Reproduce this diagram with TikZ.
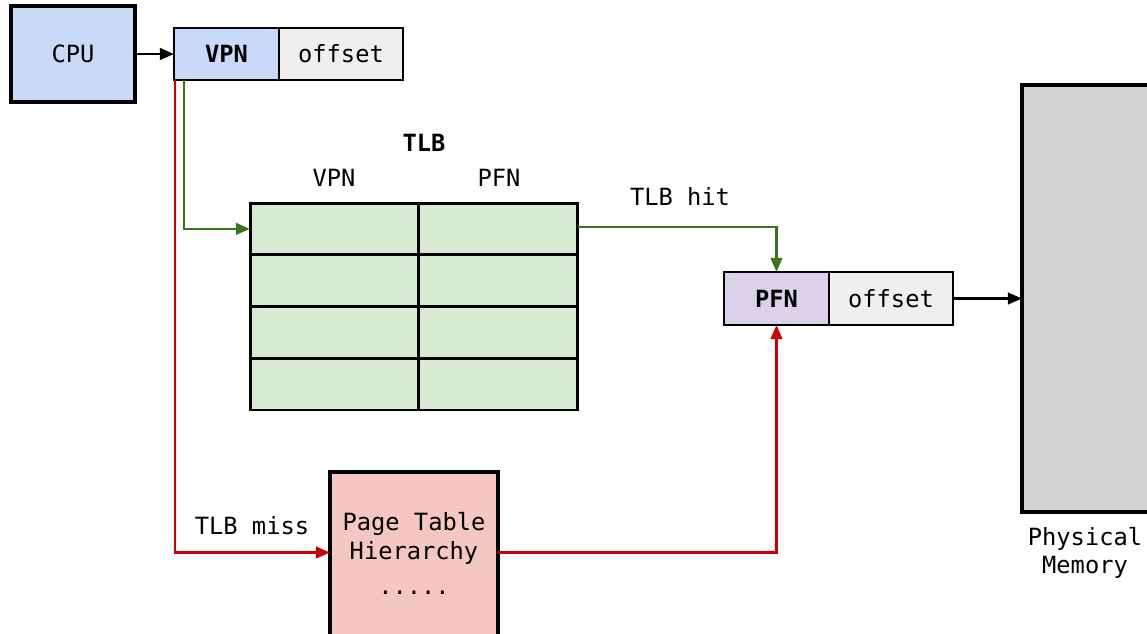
\documentclass[tikz,border=0pt]{standalone}
\usepackage{fontspec}
\setmonofont{DejaVu Sans Mono}
\usetikzlibrary{positioning,calc,arrows.meta}
\definecolor{cpublue}{HTML}{C9DAF8}
\definecolor{offgray}{HTML}{EFEFEF}
\definecolor{tlbgreen}{HTML}{D9EAD3}
\definecolor{pfnpurple}{HTML}{D9D2E9}
\definecolor{memgray}{HTML}{D4D4D4}
\definecolor{ptpink}{HTML}{F4C7C3}
\definecolor{hitgreen}{HTML}{38761D}
\definecolor{missred}{HTML}{CC0000}

\begin{document}
\begin{tikzpicture}[x=0.02cm,y=-0.02cm,>={Triangle[length=8pt,width=6.5pt]},
    font=\ttfamily\fontsize{13.5}{16}\selectfont,
    box/.style={draw,outer sep=0pt,inner sep=0pt,line width=1.1pt,minimum height=1.05cm},
    thickbox/.style={box,line width=1.8pt},
    cell/.style={draw,fill=tlbgreen,outer sep=0pt,line width=1.7pt,minimum height=1.035cm},
    link/.style={->,line width=1.5pt}]
    \useasboundingbox (0,0) rectangle (1147,633);
    \clip (0,0) rectangle (1147,633);
    % nodes
      \node[thickbox,fill=cpublue,minimum width=2.48cm,minimum height=1.92cm] (cpu) at (73,54) {CPU};
      \node[box,fill=cpublue,minimum width=2.1cm] (vpn) at (226.5,54) {\bfseries VPN};
      \node[box,fill=offgray,minimum width=2.48cm,right=0pt of vpn] (voff) {offset};
      \node (tlb) at (424,143) {\bfseries TLB};
      \node (hvpn) at (334,178) {VPN};
      \node (hpfn) at (499,178) {PFN};
      \foreach \r in {1,...,4}{
        \node[cell,minimum width=3.38cm] (v\r) at (334.5,{203+51.75*(\r-0.5)}) {};
        \node[cell,minimum width=3.18cm,right=0pt of v\r] (p\r) {};
      }
      \node[box,fill=pfnpurple,minimum width=2.1cm,minimum height=1.06cm] (pfn) at (776.5,298.5) {\bfseries PFN};
      \node[box,fill=offgray,minimum width=2.48cm,minimum height=1.06cm,right=0pt of pfn] (poff) {offset};
      \node[thickbox,fill=memgray,minimum width=2.6cm,minimum height=8.54cm] (mem) at (1087,298.5) {};
      \node[align=center] (memlbl) at (1085,553) {Physical\\Memory};
      \node[thickbox,fill=ptpink,minimum width=3.36cm,minimum height=3.46cm] (pt) at (414,558.5) {};
      \node[align=center] (pttext) at ($(pt)+(0,-5)$) {Page Table\\Hierarchy\\[4pt].....};
      \node (hit) at (680,196) {TLB hit};
      \node (miss) at (252,526) {TLB miss};
      %edges
      \draw[link] (cpu) -- (vpn);
      \draw[link,hitgreen] ($(vpn.south west)+(10,0)$) |- (v1.west);
      \draw[link,missred] ($(vpn.south west)+(1,0)$) |- ($(pt.west)+(0,-6)$);
      \draw[link,hitgreen] ($(p1.east)+(0,-2)$) -| (pfn.north);
      \draw[link,missred] ($(pt.east)+(0,-6)$) -| (pfn.south);
      \draw[link] (poff) -- (mem);
\end{tikzpicture}
\end{document}
